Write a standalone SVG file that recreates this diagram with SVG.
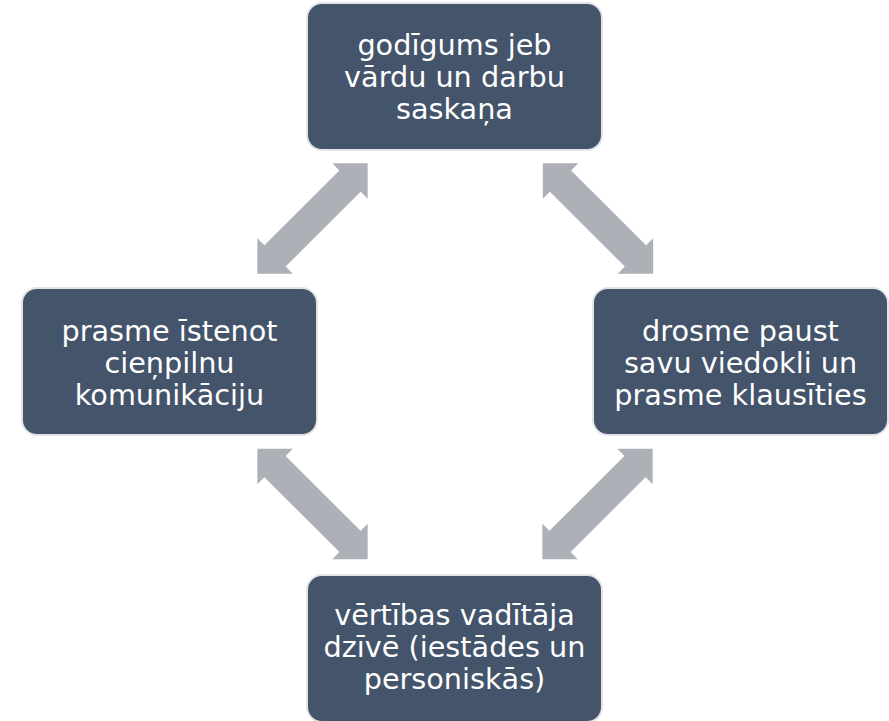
<svg xmlns="http://www.w3.org/2000/svg" width="889" height="721" viewBox="0 0 889 721">
<defs>
<style>
.box{fill:#44546A;stroke:#E3E4E6;stroke-width:2}
.lbl{font-family:"DejaVu Sans","Verdana",sans-serif;font-size:28.7px;fill:#FFFFFF;text-anchor:middle}
.arr{fill:#ADB0B7}
</style>
<polygon id="dbl" class="arr" points="-78,0 -53,-25 -53,-15 53,-15 53,-25 78,0 53,25 53,15 -53,15 -53,25"/>
</defs>
<rect width="889" height="721" fill="#FFFFFF"/>
<g id="connectors">
<use href="#dbl" transform="translate(312.5,218.5) rotate(-45)"/>
<use href="#dbl" transform="translate(598,218.5) rotate(45)"/>
<use href="#dbl" transform="translate(312.5,504) rotate(45)"/>
<use href="#dbl" transform="translate(597.5,504) rotate(-45)"/>
</g>
<g id="node-top">
<rect class="box" x="307" y="3" width="295" height="147" rx="15"/>
<text class="lbl"><tspan x="454.5" y="55">godīgums jeb</tspan><tspan x="454.5" y="87">vārdu un darbu</tspan><tspan x="454.5" y="119">saskaņa</tspan></text>
</g>
<g id="node-left">
<rect class="box" x="22" y="288" width="295" height="147" rx="15"/>
<text class="lbl"><tspan x="169.5" y="340.5">prasme īstenot</tspan><tspan x="169.5" y="372.5">cieņpilnu</tspan><tspan x="169.5" y="404.5">komunikāciju</tspan></text>
</g>
<g id="node-right">
<rect class="box" x="593" y="288" width="295" height="147" rx="15"/>
<text class="lbl"><tspan x="740.5" y="340.5">drosme paust</tspan><tspan x="740.5" y="372.5">savu viedokli un</tspan><tspan x="740.5" y="404.5">prasme klausīties</tspan></text>
</g>
<g id="node-bottom">
<rect class="box" x="307" y="575" width="295" height="147" rx="15"/>
<text class="lbl"><tspan x="454.5" y="625">vērtības vadītāja</tspan><tspan x="454.5" y="657">dzīvē (iestādes un</tspan><tspan x="454.5" y="689">personiskās)</tspan></text>
</g>
</svg>
